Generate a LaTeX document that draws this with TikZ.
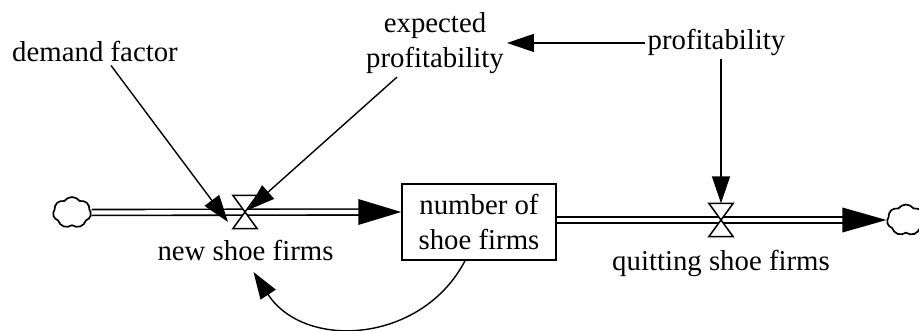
\documentclass[tikz,border=0pt]{standalone}
\usepackage{fontspec}
\setmainfont{Liberation Serif}
\usetikzlibrary{arrows.meta,shapes.symbols}
\begin{document}
\begin{tikzpicture}[x=1pt,y=1pt,
  lbl/.style={font=\fontsize{28.8}{35}\selectfont, inner sep=3pt},
  conn/.style={line width=1.4pt, -{Triangle[length=27pt,width=18pt]}},
  pipe/.style={double, double distance=4.3pt, line width=1.6pt},
  pipehead/.style={fill=black},
  valvebox/.style={minimum width=24pt, minimum height=33pt, inner sep=0pt},
  valveshape/.style={draw, fill=white, line width=1.5pt, line join=miter},
  stock/.style={draw, line width=1.5pt, minimum width=154pt, minimum height=76pt,
    align=center, inner sep=0pt, font=\fontsize{28.8}{35}\selectfont},
  cloudsrc/.style={cloud, draw, cloud puffs=7, cloud puff arc=110, aspect=1.25,
    minimum width=38pt, minimum height=31pt, inner sep=0pt, line width=1.7pt}
]
\useasboundingbox (0,0) rectangle (919,330);
\clip (0,0) rectangle (919,330);

% stock, valves, clouds
\node[stock] (box) at (479,108) {number of\\shoe firms};
\node[valvebox] (v1) at (245,118) {};
\node[valvebox] (v2) at (721,110) {};
\node[cloudsrc] (c1) at (72,117.5) {};
\node[cloudsrc] (c2) at (906,110) {};
\coordinate (in1) at (box.west |- v1);
\coordinate (out2) at (box.east |- v2);
\coordinate (end2) at (c2.west |- v2);

% labels
\node[lbl, anchor=base] (demand) at (95,268) {demand factor};
\node[lbl, align=center] (expected) at (435,286.7) {expected\\profitability};
\node[lbl, anchor=base] (prof) at (716.5,280) {profitability};
\node[lbl, anchor=base] (nsf) at (245.5,70) {new shoe firms};
\node[lbl, anchor=base] (qsf) at (721,60) {quitting shoe firms};

% pipes
\draw[pipe] (c1.east) -- ([xshift=-42pt]in1);
\fill[pipehead] ([xshift=-43pt,yshift=13pt]in1) -- (in1) -- ([xshift=-43pt,yshift=-13pt]in1) -- cycle;
\draw[pipe] (out2) -- ([xshift=-43pt]end2);
\fill[pipehead] ([xshift=-44pt,yshift=12.5pt]end2) -- (end2) -- ([xshift=-44pt,yshift=-12.5pt]end2) -- cycle;

% valve shapes
\draw[valveshape] (v1.north west) -- (v1.north east) -- (v1.center) -- cycle;
\draw[valveshape] (v1.south west) -- (v1.south east) -- (v1.center) -- cycle;
\draw[valveshape] (v2.north west) -- (v2.north east) -- (v2.center) -- cycle;
\draw[valveshape] (v2.south west) -- (v2.south east) -- (v2.center) -- cycle;

% connectors
\draw[conn] (prof.west) -- (expected.east |- prof.west);
\draw[conn] (prof.south -| v2.north) -- (v2.north);
\draw[conn] ([xshift=16pt]demand.south) -- ([xshift=-17pt,yshift=-10pt]v1.center);
\draw[conn] ([xshift=-38pt]expected.south) -- ([xshift=3pt,yshift=2pt]v1.center);
\draw[conn] ([xshift=-14pt]box.south) to[out=-117.5, in=-57, looseness=1.13] ([xshift=8pt,yshift=-12pt]nsf.base);
\end{tikzpicture}
\end{document}
